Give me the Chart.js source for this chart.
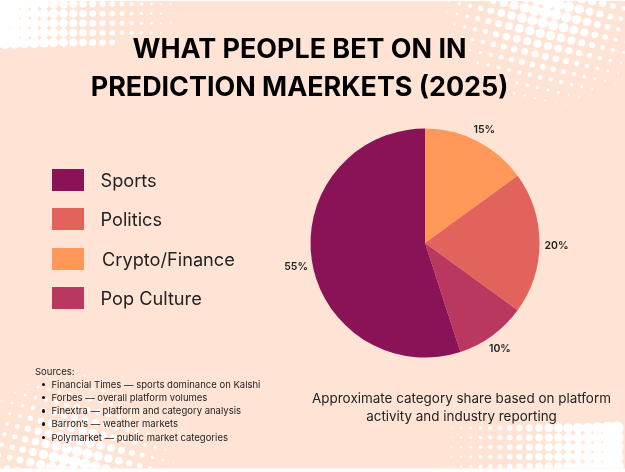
<!DOCTYPE html>
<html>
<head>
<meta charset="utf-8">
<script src="https://cdn.jsdelivr.net/npm/chart.js@4"></script>
<style>
  body { margin: 0; background: #fff; font-family: Inter, sans-serif; color: #222; }
  #wrap { position: relative; width: 625px; height: 472px; overflow: hidden; }
  #chart { position: absolute; left: 0; top: 0; }
  .txt { position: absolute; white-space: nowrap; }
  #title { left: 0; width: 599px; top: 29px; text-align: center; font: 700 26.9px/38px Inter, sans-serif; color: #000; }
  .swatch { position: absolute; left: 52px; width: 32px; height: 22px; }
  .leg { font-size: 18.2px; line-height: 23px; }
  #sources { left: 35px; top: 364.5px; font-size: 9.5px; line-height: 13.2px; }
  #sources div.item { padding-left: 16.5px; position: relative; }
  #sources div.item::before { content: ""; position: absolute; left: 7px; top: 5px; width: 3.4px; height: 3.4px; border-radius: 50%; background: #111; }
  #caption { left: 300px; width: 323px; top: 389px; text-align: center; font-size: 13.45px; line-height: 18.4px; }
</style>
</head>
<body>
<div id="wrap">
  <canvas id="chart" width="625" height="472"></canvas>
  <div id="title" class="txt"></div>
  <div id="legend"></div>
  <div id="sources" class="txt"></div>
  <div id="caption" class="txt"></div>
</div>
<script>
const titleLines = ['WHAT PEOPLE BET ON IN', 'PREDICTION MAERKETS (2025)'];
const pieCategories = ['Crypto/Finance', 'Politics', 'Pop Culture', 'Sports'];
const pieValues = [15, 20, 10, 55];
const pieColors = ['#FF9858', '#E2635B', '#B9385F', '#8A1358'];
const legendCategories = ['Sports', 'Politics', 'Crypto/Finance', 'Pop Culture'];
const sourcesHeading = 'Sources:';
const sourceItems = [
  'Financial Times — sports dominance on Kalshi',
  'Forbes — overall platform volumes',
  'Finextra — platform and category analysis',
  'Barron’s — weather markets',
  'Polymarket — public market categories'
];
const captionLines = ['Approximate category share based on platform', 'activity and industry reporting'];

document.getElementById('title').innerHTML = titleLines.join('<br>');
document.getElementById('caption').innerHTML = captionLines.join('<br>');
document.getElementById('sources').innerHTML = '<div>' + sourcesHeading + '</div>' +
  sourceItems.map(s => '<div class="item">' + s + '</div>').join('');

// legend rows are placed by hand like the original, colours follow the pie
const legendTops = [169, 208, 248, 287];
const legend = document.getElementById('legend');
legendCategories.forEach((name, i) => {
  const color = pieColors[pieCategories.indexOf(name)];
  const left = name === 'Crypto/Finance' ? 102 : 100.5;
  legend.innerHTML += '<div class="swatch" style="top:' + legendTops[i] + 'px;background:' + color + '"></div>' +
    '<div class="txt leg" style="left:' + left + 'px;top:' + legendTops[i] + 'px">' + name + '</div>';
});

function dot(ctx, x, y, r) {
  if (r <= 0.15) return;
  ctx.beginPath();
  ctx.arc(x, y, r, 0, Math.PI * 2);
  ctx.fill();
}

// halftone corners, decoration only
function straightDots(ctx, startX, startY, stepX, rowLengths) {
  rowLengths.forEach((len, j) => {
    for (let i = 0; i < len; i++) {
      dot(ctx, startX + stepX * i, startY + 9.6 * j, 6.6 * (1 - i / 19));
    }
  });
}
function radialDots(ctx, cx, cy, reach) {
  for (let a = -14; a <= 14; a++) {
    for (let b = -14; b <= 14; b++) {
      const x = cx + a * 10.4 - b * 2.6;
      const y = cy + a * 2.4 + b * 10.4;
      const d = Math.hypot(x - cx, y - cy);
      dot(ctx, x, y, 6.6 * (1 - d / reach));
    }
  }
}

const backdrop = {
  id: 'backdrop',
  beforeDraw(chart) {
    const ctx = chart.ctx;
    ctx.save();
    ctx.beginPath();
    ctx.rect(0, 1, 625, 467.5);
    ctx.clip();
    ctx.fillStyle = '#FFE4D6';
    ctx.fillRect(0, 0, 625, 472);
    ctx.fillStyle = '#fff';
    straightDots(ctx, 5, 4, 9.75, [19, 19, 19, 19, 12]);
    straightDots(ctx, 617, 428, -9.75, [19, 19, 19, 19, 19]);
    radialDots(ctx, 548, 2, 115);
    radialDots(ctx, 72, 472, 112);
    ctx.restore();
  }
};

// gap between pie edge and each percent label
const labelGaps = [16, 17, 13, 16];
const sliceLabels = {
  id: 'sliceLabels',
  afterDatasetsDraw(chart) {
    const ctx = chart.ctx;
    ctx.save();
    ctx.font = '600 10.5px Inter, sans-serif';
    ctx.fillStyle = '#222';
    ctx.textAlign = 'center';
    ctx.textBaseline = 'middle';
    chart.getDatasetMeta(0).data.forEach((arc, i) => {
      const mid = (arc.startAngle + arc.endAngle) / 2;
      const r = arc.outerRadius + labelGaps[i];
      ctx.fillText(pieValues[i] + '%', arc.x + Math.cos(mid) * r, arc.y + Math.sin(mid) * r + 3);
    });
    ctx.restore();
  }
};

new Chart(document.getElementById('chart').getContext('2d'), {
  type: 'pie',
  data: {
    labels: pieCategories,
    datasets: [{ data: pieValues, backgroundColor: pieColors, borderWidth: 0 }]
  },
  options: {
    responsive: false,
    animation: false,
    layout: { padding: { left: 310.5, right: 85.5, top: 128.5, bottom: 114.5 } },
    plugins: { legend: { display: false }, tooltip: { enabled: false } }
  },
  plugins: [backdrop, sliceLabels]
});
</script>
</body>
</html>
